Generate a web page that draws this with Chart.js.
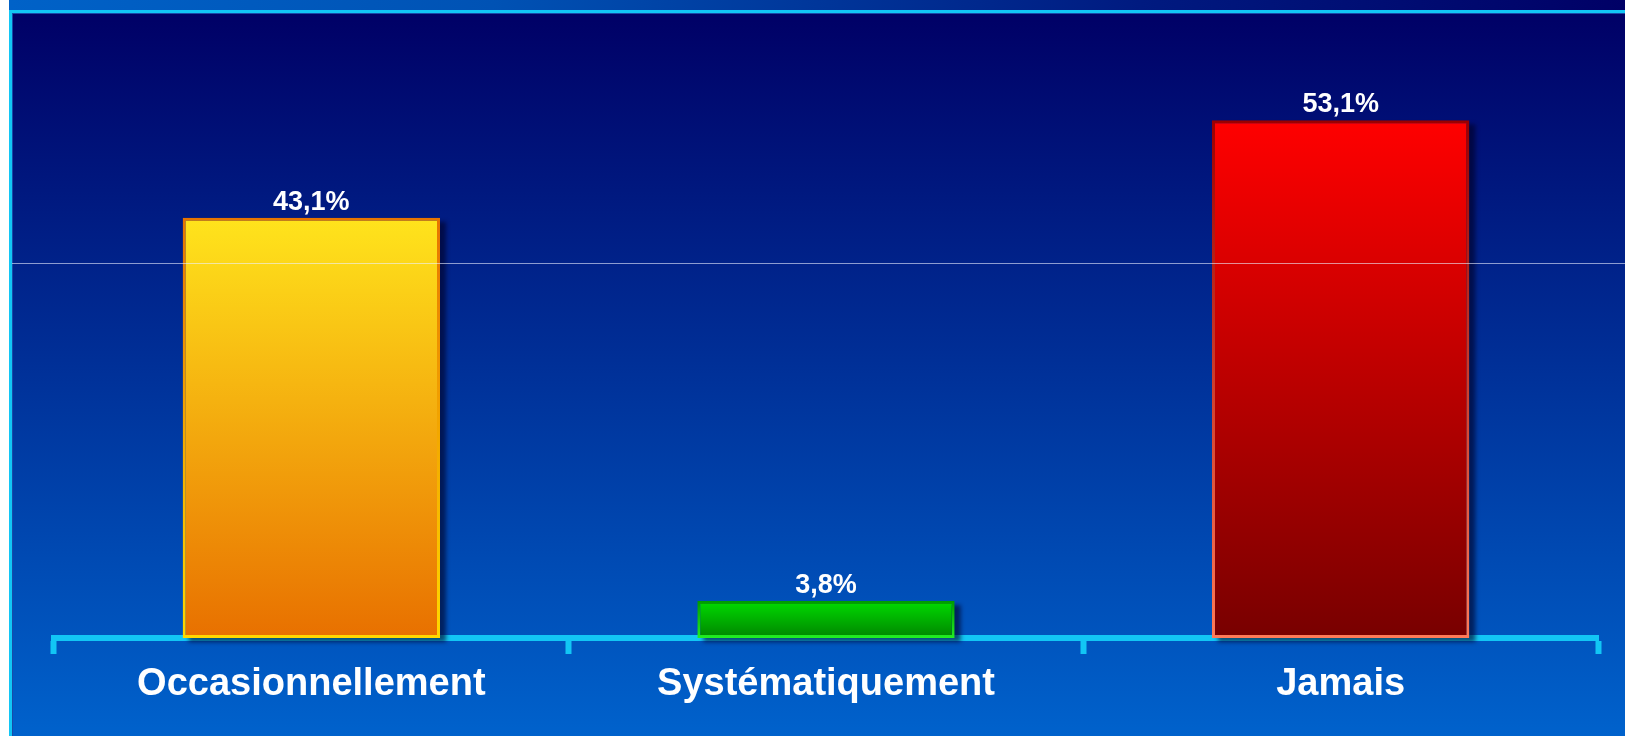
<!DOCTYPE html>
<html lang="fr">
<head>
<meta charset="utf-8">
<title>Fréquence</title>
<script src="https://cdn.jsdelivr.net/npm/chart.js@4/dist/chart.umd.min.js"></script>
<style>
  html, body { margin: 0; padding: 0; }
  body { width: 1625px; height: 736px; overflow: hidden; background: #ffffff; position: relative; }
  #band {
    position: absolute; left: 9px; top: 0; width: 1616px; height: 10px;
    background: linear-gradient(to right, #0062c8 0%, #0052b4 30%, #001a80 70%, #000066 100%);
  }
  #panel {
    position: absolute; left: 9px; top: 10px; width: 1616px; height: 726px;
    box-sizing: border-box;
    border-left: 3px solid #12c6f5; border-top: 3px solid #12c6f5;
    box-shadow: inset 1px 1px 0 #1a4aa8;
    background: linear-gradient(to bottom, #000066 0%, #0062cc 100%);
  }
  #chart { position: absolute; left: 0; top: 0; z-index: 2; }
  #rule {
    position: absolute; left: 12px; top: 263px; width: 1613px; height: 1px;
    background: rgba(235, 240, 255, 0.6); z-index: 3;
  }
</style>
</head>
<body>
<div id="band"></div>
<div id="panel"></div>
<canvas id="chart" width="1625" height="736"></canvas>
<div id="rule"></div>
<script>
// Réponses (en % des répondants)
const categories = ['Occasionnellement', 'Systématiquement', 'Jamais'];
const shares = [43.1, 3.8, 53.1];
const valueLabels = ['43,1%', '3,8%', '53,1%'];

// Bar palette: fill goes top -> bottom, edge runs the other way round
const fillTop     = ['#ffe41c', '#00dc00', '#ff0000'];
const fillBottom  = ['#e87000', '#008400', '#780000'];
const edgeTop     = ['#e67400', '#009a00', '#9a0000'];
const edgeBottom  = ['#ffd800', '#22ee22', '#ff7a58'];

const CYAN = '#12c6f5';
const FONT = '"Liberation Sans", Arial, Helvetica, sans-serif';

function verticalGradient(tops, bottoms) {
  return (c) => {
    const i = c.dataIndex;
    const chart = c.chart;
    const y = chart.scales && chart.scales.y;
    if (!y || c.type !== 'data') return tops[i];
    const y0 = y.getPixelForValue(c.raw);
    const y1 = y.getPixelForValue(0);
    if (!isFinite(y0) || !isFinite(y1) || y0 === y1) return tops[i];
    const g = chart.ctx.createLinearGradient(0, y0, 0, y1);
    g.addColorStop(0, tops[i]);
    g.addColorStop(1, bottoms[i]);
    return g;
  };
}

// Soft drop shadow behind each bar
const barShadow = {
  id: 'barShadow',
  beforeDatasetsDraw(chart) {
    const ctx = chart.ctx;
    const meta = chart.getDatasetMeta(0);
    ctx.save();
    ctx.fillStyle = 'rgba(0, 0, 35, 0.6)';
    ctx.filter = 'blur(2px)';
    meta.data.forEach((bar) => {
      const p = bar.getProps(['x', 'y', 'base', 'width'], true);
      ctx.fillRect(p.x - p.width / 2 + 6, p.y + 4, p.width, p.base - p.y);
    });
    ctx.restore();
  }
};

// Percentage written above each bar
const valueTags = {
  id: 'valueTags',
  afterDatasetsDraw(chart) {
    const ctx = chart.ctx;
    const meta = chart.getDatasetMeta(0);
    ctx.save();
    ctx.font = 'bold 27px ' + FONT;
    ctx.fillStyle = '#ffffff';
    ctx.textAlign = 'center';
    ctx.textBaseline = 'alphabetic';
    meta.data.forEach((bar, i) => {
      const p = bar.getProps(['x', 'y'], true);
      ctx.fillText(valueLabels[i], p.x, p.y - 8);
    });
    ctx.restore();
  }
};

new Chart(document.getElementById('chart'), {
  type: 'bar',
  data: {
    labels: categories,
    datasets: [{
      data: shares,
      backgroundColor: verticalGradient(fillTop, fillBottom),
      borderColor: verticalGradient(edgeTop, edgeBottom),
      borderWidth: 3,
      borderSkipped: false,
      categoryPercentage: 1,
      barPercentage: 0.5
    }]
  },
  options: {
    responsive: false,
    devicePixelRatio: 1,
    animation: false,
    events: [],
    layout: { padding: { top: 53, left: 54, right: 27, bottom: 0 } },
    plugins: { legend: { display: false }, tooltip: { enabled: false } },
    scales: {
      y: { display: false, min: 0, max: 60 },
      x: {
        z: 1,
        offset: true,
        afterFit(scale) { scale.height = 98; },
        border: { display: true, color: CYAN, width: 6 },
        grid: {
          offset: true,
          drawOnChartArea: false,
          drawTicks: true,
          tickLength: 16,
          tickWidth: 6,
          tickColor: CYAN
        },
        ticks: {
          color: '#ffffff',
          padding: 8,
          maxRotation: 0,
          font: { family: FONT, size: 38, weight: 'bold' }
        }
      }
    }
  },
  plugins: [barShadow, valueTags]
});
</script>
</body>
</html>
